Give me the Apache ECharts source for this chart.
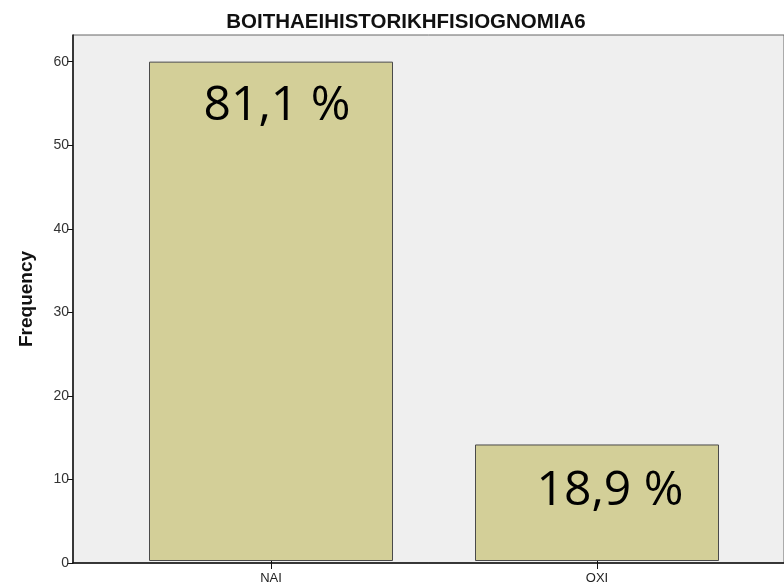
<!DOCTYPE html>
<html>
<head>
<meta charset="utf-8">
<script src="https://cdn.jsdelivr.net/npm/echarts@6/dist/echarts.min.js"></script>
<style>
  html, body { margin: 0; padding: 0; background: #fff; }
  #chart { width: 784px; height: 585px; }
</style>
</head>
<body>
<div id="chart"></div>
<script>
// 数据
const chartTitle = 'BOITHAEIHISTORIKHFISIOGNOMIA6';
const categories = ['NAI', 'OXI'];
const frequencies = [60, 14];
const percentLabels = ['81,1 %', '18,9 %'];
const yTitle = 'Frequency';

// 样式
const yMax = 63.2;
const labelOffsets = [[6, 21], [13, 23]];
const baseFont = 'Liberation Sans, Arial, sans-serif';

const chart = echarts.init(document.getElementById('chart'));

chart.setOption({
    backgroundColor: '#ffffff',
    animation: false,
    title: {
        text: chartTitle,
        left: 401,
        textAlign: 'center',
        top: 7,
        textStyle: { fontFamily: baseFont, fontSize: 20.5, fontWeight: 'bold', color: '#111' }
    },
    grid: [
        // 背景框与坐标轴
        { left: 73, top: 35, bottom: 22, width: 722, show: true,
          backgroundColor: '#efefef', borderColor: '#666', borderWidth: 1 },
        // 柱子
        { left: 108, top: 35, bottom: 22, width: 652 }
    ],
    xAxis: [{
        gridIndex: 0, type: 'value', min: 0, max: 1,
        axisLine: { show: true, onZero: false, lineStyle: { color: '#111', width: 1.5 } },
        axisTick: { show: false }, axisLabel: { show: false }, splitLine: { show: false }
    }, {
        gridIndex: 1, type: 'category', data: categories,
        axisLine: { show: false },
        axisTick: { show: true, alignWithLabel: true, length: 8, lineStyle: { color: '#111' } },
        axisLabel: { fontFamily: baseFont, fontSize: 13, color: '#222', margin: 11 }
    }],
    yAxis: [{
        gridIndex: 0, type: 'value', min: 0, max: yMax, interval: 10,
        name: yTitle, nameLocation: 'middle', nameRotate: 90, nameGap: 37,
        nameTextStyle: { fontFamily: baseFont, fontSize: 19, fontWeight: 'bold', color: '#111' },
        axisLine: { show: true, lineStyle: { color: '#111', width: 1.5 } },
        axisTick: { show: true, length: 6, lineStyle: { color: '#111' } },
        axisLabel: { fontFamily: baseFont, fontSize: 14, color: '#333', margin: 4,
            showMaxLabel: false },
        splitLine: { show: false }
    }, {
        gridIndex: 1, type: 'value', min: 0, max: yMax, show: false
    }],
    series: [{
        type: 'bar',
        xAxisIndex: 1, yAxisIndex: 1,
        barWidth: 244,
        itemStyle: { color: '#d3cf98', borderColor: '#4a4a4a', borderWidth: 1 },
        data: frequencies.map((v, i) => ({
            value: v,
            label: {
                show: true,
                position: 'insideTop',
                distance: 0,
                offset: labelOffsets[i],
                formatter: percentLabels[i],
                fontFamily: 'Open Sans, sans-serif',
                fontSize: 48,
                color: '#000'
            }
        }))
    }]
});
</script>
</body>
</html>
